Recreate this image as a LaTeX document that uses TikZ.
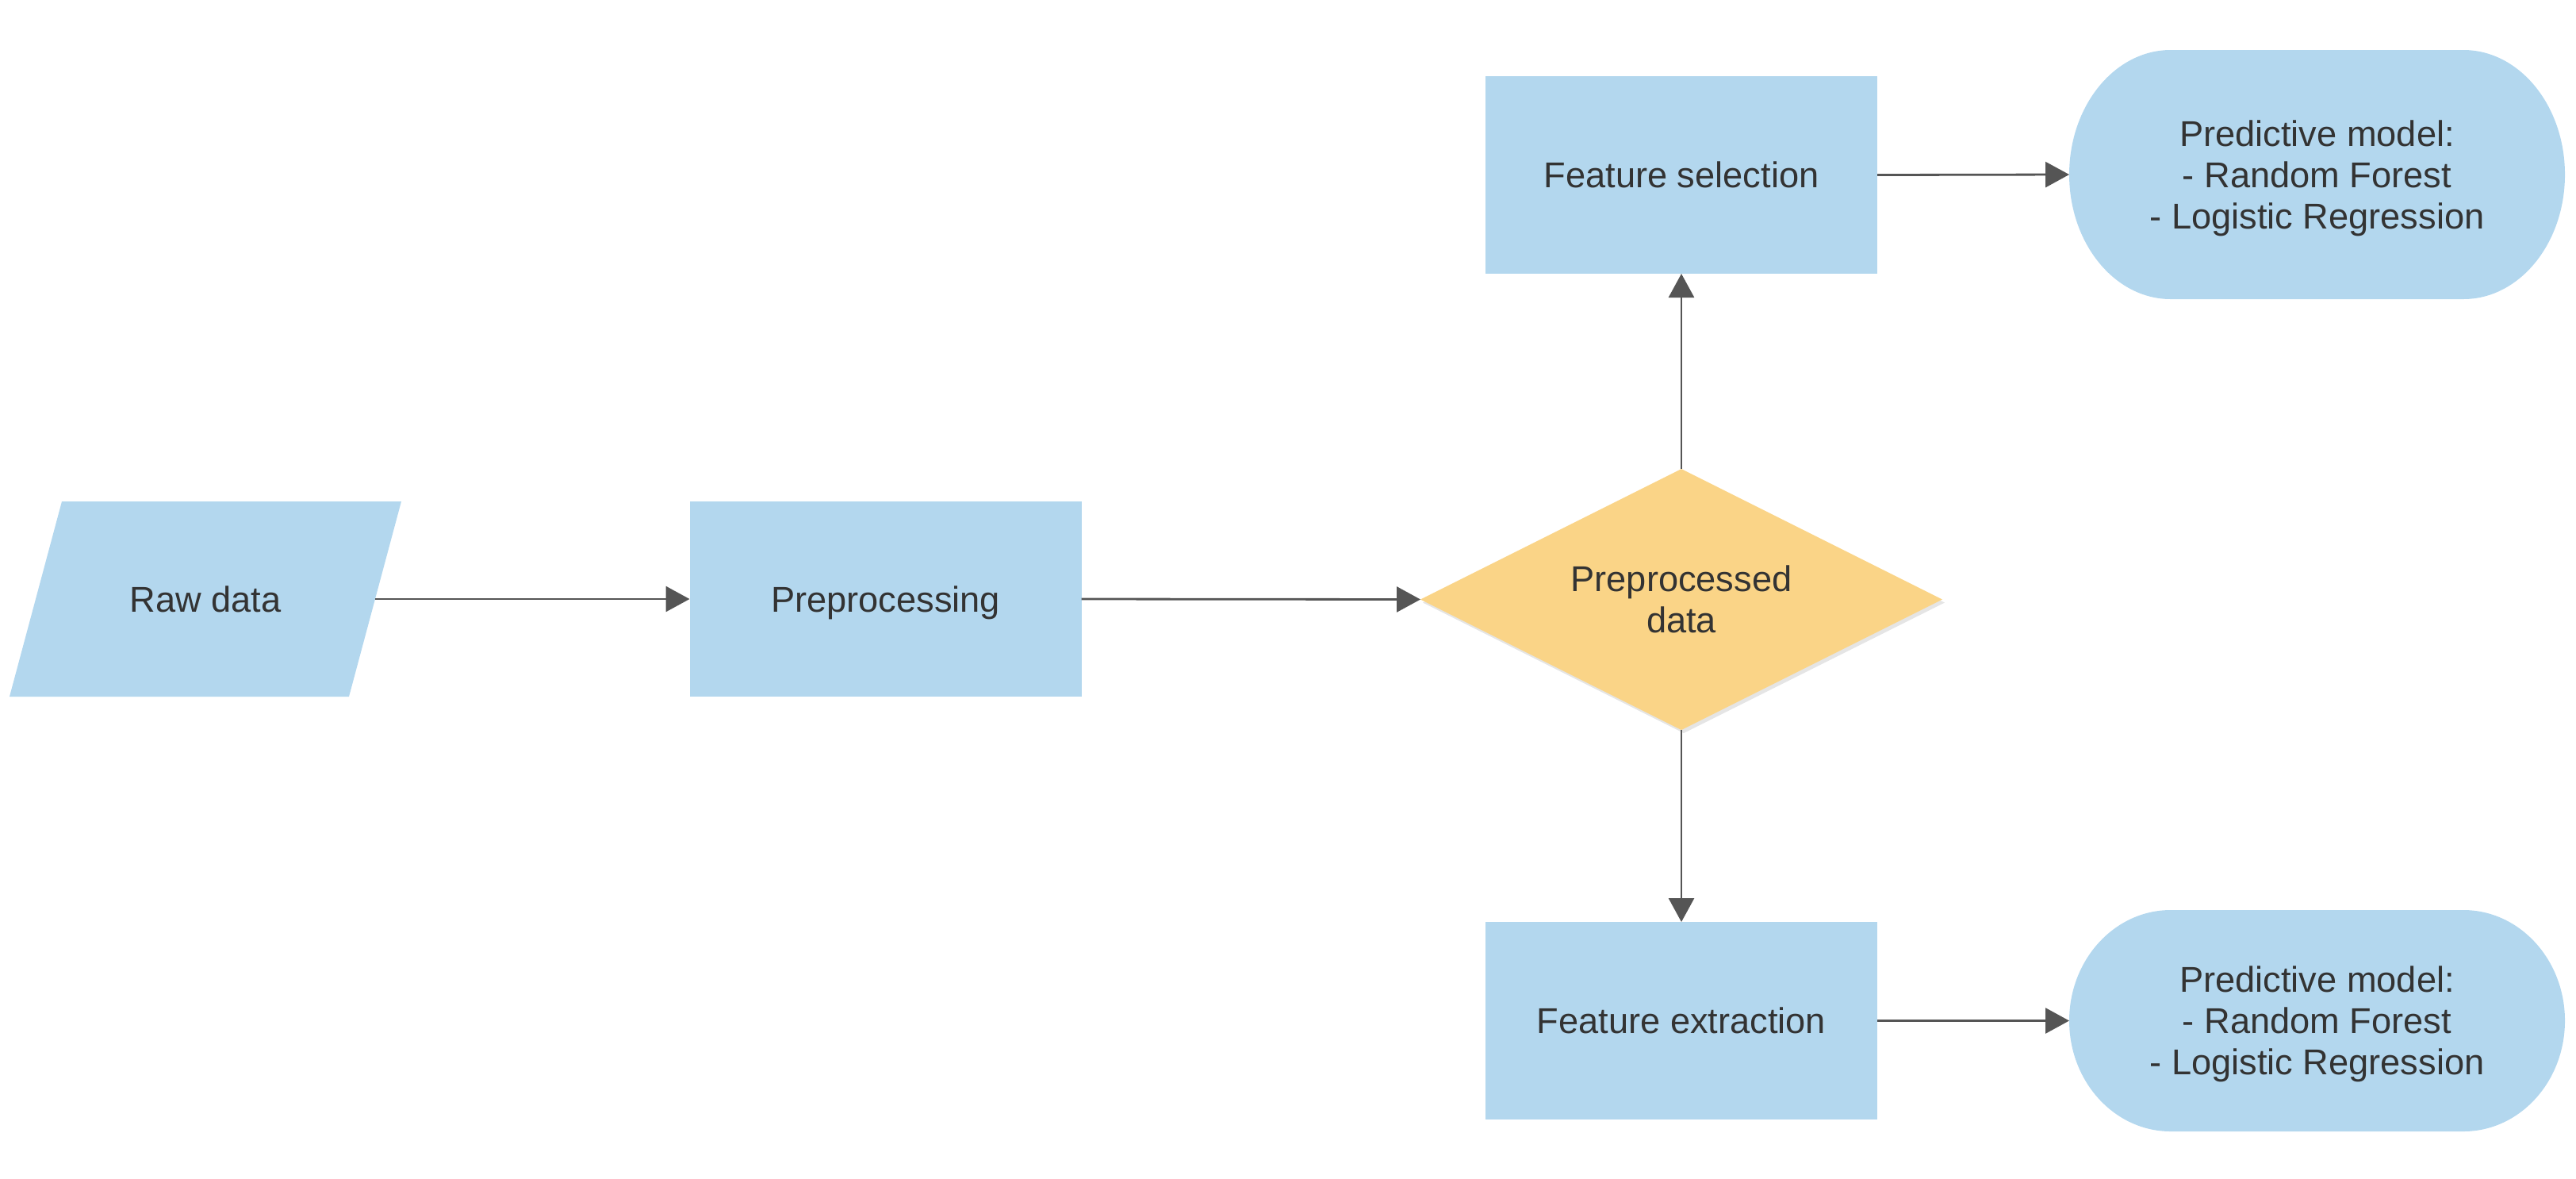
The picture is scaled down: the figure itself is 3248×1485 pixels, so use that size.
\documentclass[tikz,border=0pt]{standalone}
\usepackage{fontspec}
\setmainfont{Liberation Sans}
\usetikzlibrary{shapes.geometric,arrows.meta,shadows,backgrounds}
\definecolor{boxblue}{HTML}{B3D7EE}
\definecolor{diayellow}{HTML}{FAD487}
\definecolor{arrgray}{HTML}{555555}
\definecolor{txtgray}{HTML}{333333}
\begin{document}
\begin{tikzpicture}[x=0.5pt,y=-0.5pt,
  lbl/.style={text=txtgray, font=\fontsize{22.6}{26}\selectfont, align=center, inner sep=0pt, outer sep=0pt, text depth=0pt},
  oneline/.style={text height=16.2pt},
  twolines/.style={text height=42.2pt},
  threelines/.style={text height=68.2pt},
  bluebox/.style={lbl, oneline, fill=boxblue, draw=none, minimum width=247pt, minimum height=124.5pt},
  shapeonly/.style={lbl, draw=none},
  decision/.style={lbl, twolines, shape=diamond, aspect=2, fill=diayellow, draw=none, minimum width=329pt, minimum height=164.5pt,
     drop shadow={shadow xshift=1.5pt, shadow yshift=-2pt, fill=black, opacity=0.10}},
  arr/.style={draw=arrgray, line width=1.4pt, -{Triangle[length=15pt,width=16pt]}}
]
\useasboundingbox (0,0) rectangle (3248,1485);

% nodes
\node[shapeonly, oneline, minimum width=247pt, minimum height=123pt] (raw) at (259,755) {Raw data};
\node[bluebox, minimum height=123pt] (pre) at (1116.5,755) {Preprocessing};
\node[decision] (dia) at (2120,755.5) {Preprocessed\\data};
\node[bluebox] (fs) at (2120,220.5) {Feature selection};
\node[bluebox] (fe) at (2120,1286.5) {Feature extraction};
\node[shapeonly, threelines, minimum width=312.5pt, minimum height=157pt] (pm1) at (2921.5,220) {Predictive model:\\- Random Forest\\- Logistic Regression};
\node[shapeonly, threelines, minimum width=312.5pt, minimum height=139.5pt] (pm2) at (2921.5,1286.5) {Predictive model:\\- Random Forest\\- Logistic Regression};
\coordinate (rawE) at ([xshift=-16.5pt]raw.east);

% custom shape fills
\begin{scope}[on background layer]
  \fill[boxblue] (raw.south west) -- ([xshift=33pt]raw.north west) -- (raw.north east) -- ([xshift=-33pt]raw.south east) -- cycle;
  \fill[boxblue] ([xshift=64pt]pm1.north west) -- ([xshift=-64pt]pm1.north east)
     arc[start angle=90, end angle=-90, x radius=64pt, y radius=78.5pt]
     -- ([xshift=64pt]pm1.south west)
     arc[start angle=270, end angle=90, x radius=64pt, y radius=78.5pt] -- cycle;
  \fill[boxblue] ([xshift=64pt]pm2.north west) -- ([xshift=-64pt]pm2.north east)
     arc[start angle=90, end angle=-90, x radius=64pt, y radius=69.75pt]
     -- ([xshift=64pt]pm2.south west)
     arc[start angle=270, end angle=90, x radius=64pt, y radius=69.75pt] -- cycle;
\end{scope}

% connectors
\draw[arr] (rawE) -- (pre.west);
\draw[arr] (pre.east) -- (dia.west);
\draw[arr] (dia.north) -- (fs.south);
\draw[arr] (dia.south) -- (fe.north);
\draw[arr] (fs.east) -- (pm1.west);
\draw[arr] (fe.east) -- (pm2.west);
\end{tikzpicture}
\end{document}
